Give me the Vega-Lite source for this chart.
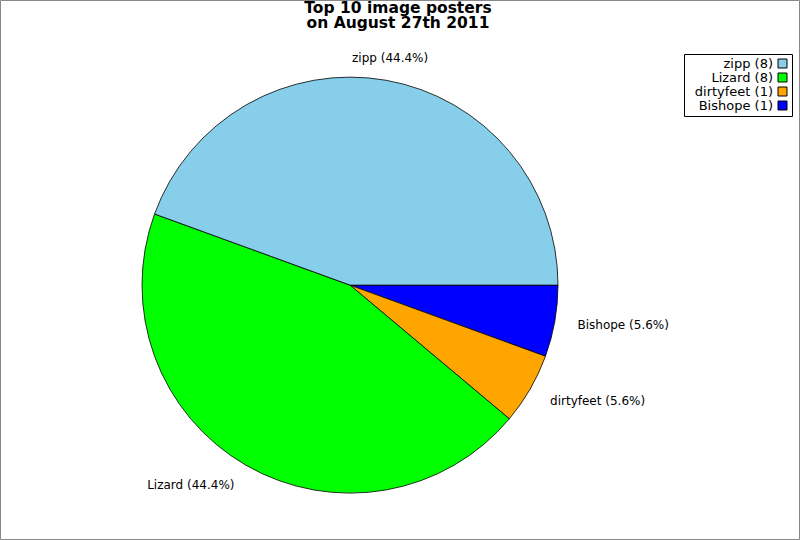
{
  "$schema": "https://vega.github.io/schema/vega-lite/v6.json",
  "description": "Top 10 image posters, pie chart",
  "width": 800,
  "height": 540,
  "padding": 0,
  "autosize": {"type": "fit", "contains": "padding"},
  "background": "white",
  "config": {
    "view": {"stroke": null},
    "font": "DejaVu Sans"
  },
  "title": {
    "text": ["Top 10 image posters", "on August 27th 2011"],
    "font": "DejaVu Sans",
    "fontSize": 15.5,
    "fontWeight": "bold",
    "lineHeight": 14.5,
    "color": "black",
    "anchor": "middle",
    "frame": "group",
    "dx": -2,
    "offset": -31
  },
  "data": {
    "values": [
      {"name": "Bishope", "posts": 1, "pct": "Bishope (5.6%)", "legend": "Bishope (1)", "ord": 1},
      {"name": "dirtyfeet", "posts": 1, "pct": "dirtyfeet (5.6%)", "legend": "dirtyfeet (1)", "ord": 2},
      {"name": "Lizard", "posts": 8, "pct": "Lizard (44.4%)", "legend": "Lizard (8)", "ord": 3},
      {"name": "zipp", "posts": 8, "pct": "zipp (44.4%)", "legend": "zipp (8)", "ord": 4}
    ]
  },
  "layer": [
    {
      "data": {"values": [{"frame": "border"}]},
      "mark": {
        "type": "rect",
        "x": 0.5,
        "y": 0.5,
        "x2": {"expr": "width - 0.5"},
        "y2": {"expr": "height - 0.5"},
        "fill": null,
        "stroke": "#888888",
        "strokeWidth": 1
      },
      "encoding": {}
    },
    {
      "mark": {
        "type": "arc",
        "radius": 208,
        "x": {"expr": "width * 0.4375"},
        "y": {"expr": "height * 0.528"},
        "stroke": "black",
        "strokeWidth": 0.8
      },
      "encoding": {
        "theta": {
          "field": "posts",
          "type": "quantitative",
          "stack": true,
          "scale": {"range": [1.5707963, 7.8539816]}
        },
        "order": {"field": "ord", "type": "quantitative"},
        "color": {
          "field": "legend",
          "type": "nominal",
          "scale": {
            "domain": ["zipp (8)", "Lizard (8)", "dirtyfeet (1)", "Bishope (1)"],
            "range": ["#87CEEB", "#00FF00", "#FFA500", "#0000FF"]
          },
          "legend": {
            "title": null,
            "orient": "none",
            "legendX": 684,
            "legendY": 54,
            "strokeColor": "black",
            "fillColor": "white",
            "padding": 3,
            "rowPadding": -9,
            "symbolType": "square",
            "symbolSize": 81,
            "symbolStrokeColor": "black",
            "symbolStrokeWidth": 1,
            "symbolOpacity": 1,
            "symbolOffset": 89,
            "labelAlign": "right",
            "labelBaseline": "middle",
            "labelOffset": -16,
            "labelFont": "DejaVu Sans",
            "labelFontSize": 13,
            "labelColor": "black"
          }
        }
      }
    },
    {
      "mark": {
        "type": "text",
        "radius": 231,
        "x": {"expr": "width * 0.4375"},
        "y": {"expr": "height * 0.528"},
        "font": "DejaVu Sans",
        "fontSize": 12,
        "color": "black",
        "baseline": "middle",
        "align": {"expr": "datum.name == 'Lizard' ? 'right' : (datum.name == 'zipp' ? 'center' : 'left')"}
      },
      "encoding": {
        "theta": {
          "field": "posts",
          "type": "quantitative",
          "stack": true,
          "scale": {"range": [1.5707963, 7.8539816]}
        },
        "order": {"field": "ord", "type": "quantitative"},
        "text": {"field": "pct"}
      }
    }
  ]
}
